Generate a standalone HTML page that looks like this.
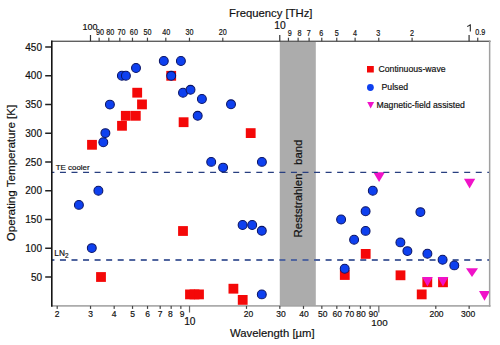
<!DOCTYPE html><html><head><meta charset="utf-8"><style>html,body{margin:0;padding:0;background:#fff;width:500px;height:345px;overflow:hidden}svg{display:block}text{font-family:"Liberation Sans",sans-serif;fill:#101010;stroke:#101010;stroke-width:0.18px}</style></head><body>
<svg width="500" height="345" viewBox="0 0 500 345">
<rect width="500" height="345" fill="#fff"/>
<rect x="279.8" y="41.3" width="36" height="264.59999999999997" fill="#acacac"/>
<text transform="translate(302.2,237.4) rotate(-90)" font-size="11.4">Reststrahlen</text>
<text transform="translate(302.2,164.9) rotate(-90)" font-size="11.4">band</text>
<rect x="87.10" y="139.90" width="9.8" height="9.8" fill="#f40808"/>
<rect x="96.10" y="272.10" width="9.8" height="9.8" fill="#f40808"/>
<rect x="117.10" y="120.90" width="9.8" height="9.8" fill="#f40808"/>
<rect x="120.90" y="110.90" width="9.8" height="9.8" fill="#f40808"/>
<rect x="130.90" y="110.90" width="9.8" height="9.8" fill="#f40808"/>
<rect x="132.30" y="87.80" width="9.8" height="9.8" fill="#f40808"/>
<rect x="137.10" y="99.50" width="9.8" height="9.8" fill="#f40808"/>
<rect x="166.30" y="70.90" width="9.8" height="9.8" fill="#f40808"/>
<rect x="178.70" y="117.30" width="9.8" height="9.8" fill="#f40808"/>
<rect x="178.10" y="226.10" width="9.8" height="9.8" fill="#f40808"/>
<rect x="185.10" y="289.50" width="9.8" height="9.8" fill="#f40808"/>
<rect x="189.60" y="289.50" width="9.8" height="9.8" fill="#f40808"/>
<rect x="194.10" y="289.50" width="9.8" height="9.8" fill="#f40808"/>
<rect x="228.50" y="283.80" width="9.8" height="9.8" fill="#f40808"/>
<rect x="237.80" y="295.00" width="9.8" height="9.8" fill="#f40808"/>
<rect x="245.80" y="128.20" width="9.8" height="9.8" fill="#f40808"/>
<rect x="339.90" y="270.10" width="9.8" height="9.8" fill="#f40808"/>
<rect x="360.80" y="249.00" width="9.8" height="9.8" fill="#f40808"/>
<rect x="395.60" y="270.40" width="9.8" height="9.8" fill="#f40808"/>
<rect x="416.80" y="289.50" width="9.8" height="9.8" fill="#f40808"/>
<rect x="422.40" y="277.40" width="9.8" height="9.8" fill="#f40808"/>
<rect x="438.10" y="277.40" width="9.8" height="9.8" fill="#f40808"/>
<polygon points="373.30,172.2 384.90,172.2 379.10,182.0" fill="#f012c8"/>
<polygon points="464.00,178.7 475.20,178.7 469.60,188.39999999999998" fill="#f012c8"/>
<polygon points="466.00,268.2 478.00,268.2 472.00,277.0" fill="#f012c8"/>
<polygon points="479.00,291 490.00,291 484.50,300.8" fill="#f012c8"/>
<polygon points="422.05,277.1 432.75,277.1 427.40,286.6" fill="#f012c8"/>
<polygon points="437.65,277.1 448.35,277.1 443.00,286.6" fill="#f012c8"/>
<line x1="52" y1="172.4" x2="489.7" y2="172.4" stroke="#283f80" stroke-width="1.4" stroke-dasharray="6 5.55" stroke-dashoffset="3.6"/>
<line x1="52" y1="260" x2="489.7" y2="260" stroke="#50659f" stroke-width="1.8" stroke-dasharray="6 5.55" stroke-dashoffset="3.6"/>
<circle cx="121.9" cy="75.7" r="4.45" fill="#0e40ef" stroke="#0a1466" stroke-width="1.05"/>
<circle cx="125.9" cy="75.7" r="4.45" fill="#0e40ef" stroke="#0a1466" stroke-width="1.05"/>
<circle cx="136" cy="68" r="4.45" fill="#0e40ef" stroke="#0a1466" stroke-width="1.05"/>
<circle cx="109.9" cy="104.6" r="4.45" fill="#0e40ef" stroke="#0a1466" stroke-width="1.05"/>
<circle cx="105.4" cy="133.1" r="4.45" fill="#0e40ef" stroke="#0a1466" stroke-width="1.05"/>
<circle cx="103.3" cy="142.2" r="4.45" fill="#0e40ef" stroke="#0a1466" stroke-width="1.05"/>
<circle cx="163.8" cy="61" r="4.45" fill="#0e40ef" stroke="#0a1466" stroke-width="1.05"/>
<circle cx="180.9" cy="61" r="4.45" fill="#0e40ef" stroke="#0a1466" stroke-width="1.05"/>
<circle cx="171.2" cy="75.8" r="4.45" fill="#0e40ef" stroke="#0a1466" stroke-width="1.05"/>
<circle cx="183" cy="92.7" r="4.45" fill="#0e40ef" stroke="#0a1466" stroke-width="1.05"/>
<circle cx="190.5" cy="89.8" r="4.45" fill="#0e40ef" stroke="#0a1466" stroke-width="1.05"/>
<circle cx="201.9" cy="99" r="4.45" fill="#0e40ef" stroke="#0a1466" stroke-width="1.05"/>
<circle cx="231" cy="104.3" r="4.45" fill="#0e40ef" stroke="#0a1466" stroke-width="1.05"/>
<circle cx="197.7" cy="115.8" r="4.45" fill="#0e40ef" stroke="#0a1466" stroke-width="1.05"/>
<circle cx="211.2" cy="161.9" r="4.45" fill="#0e40ef" stroke="#0a1466" stroke-width="1.05"/>
<circle cx="223.1" cy="167.6" r="4.45" fill="#0e40ef" stroke="#0a1466" stroke-width="1.05"/>
<circle cx="261.9" cy="161.9" r="4.45" fill="#0e40ef" stroke="#0a1466" stroke-width="1.05"/>
<circle cx="98.4" cy="190.7" r="4.45" fill="#0e40ef" stroke="#0a1466" stroke-width="1.05"/>
<circle cx="78.9" cy="204.9" r="4.45" fill="#0e40ef" stroke="#0a1466" stroke-width="1.05"/>
<circle cx="91.8" cy="248.1" r="4.45" fill="#0e40ef" stroke="#0a1466" stroke-width="1.05"/>
<circle cx="242.6" cy="225" r="4.45" fill="#0e40ef" stroke="#0a1466" stroke-width="1.05"/>
<circle cx="252.2" cy="225" r="4.45" fill="#0e40ef" stroke="#0a1466" stroke-width="1.05"/>
<circle cx="261.8" cy="230.8" r="4.45" fill="#0e40ef" stroke="#0a1466" stroke-width="1.05"/>
<circle cx="261.8" cy="294.4" r="4.45" fill="#0e40ef" stroke="#0a1466" stroke-width="1.05"/>
<circle cx="372.8" cy="190.7" r="4.45" fill="#0e40ef" stroke="#0a1466" stroke-width="1.05"/>
<circle cx="365.6" cy="211.2" r="4.45" fill="#0e40ef" stroke="#0a1466" stroke-width="1.05"/>
<circle cx="341.1" cy="219.5" r="4.45" fill="#0e40ef" stroke="#0a1466" stroke-width="1.05"/>
<circle cx="365.6" cy="230.9" r="4.45" fill="#0e40ef" stroke="#0a1466" stroke-width="1.05"/>
<circle cx="354.1" cy="239.7" r="4.45" fill="#0e40ef" stroke="#0a1466" stroke-width="1.05"/>
<circle cx="400.4" cy="242.4" r="4.45" fill="#0e40ef" stroke="#0a1466" stroke-width="1.05"/>
<circle cx="407.4" cy="251.1" r="4.45" fill="#0e40ef" stroke="#0a1466" stroke-width="1.05"/>
<circle cx="427.4" cy="253.7" r="4.45" fill="#0e40ef" stroke="#0a1466" stroke-width="1.05"/>
<circle cx="442.6" cy="259.8" r="4.45" fill="#0e40ef" stroke="#0a1466" stroke-width="1.05"/>
<circle cx="454.3" cy="265.4" r="4.45" fill="#0e40ef" stroke="#0a1466" stroke-width="1.05"/>
<circle cx="420.4" cy="212.1" r="4.45" fill="#0e40ef" stroke="#0a1466" stroke-width="1.05"/>
<circle cx="344.7" cy="268.7" r="4.45" fill="#0e40ef" stroke="#0a1466" stroke-width="1.05"/>
<text x="55.8" y="169.9" font-size="7.9">TE cooler</text>
<text x="54.3" y="255.9" font-size="8.3">LN<tspan font-size="6.3" dy="1.6">2</tspan></text>
<rect x="51" y="40.6" width="439.5" height="1.4" fill="#606060"/>
<rect x="51" y="305.1" width="439.5" height="1.6" fill="#a4a4a4"/>
<rect x="488.9" y="40.6" width="1.5" height="266.1" fill="#a0a0a0"/>
<rect x="51" y="40.6" width="1.6" height="266.1" fill="#151515"/>
<rect x="45.2" y="276.25" width="6" height="1.5" fill="#222"/>
<text x="42" y="280.50" font-size="10" text-anchor="end">50</text>
<rect x="45.2" y="247.50" width="6" height="1.5" fill="#222"/>
<text x="42" y="251.75" font-size="10" text-anchor="end">100</text>
<rect x="45.2" y="218.75" width="6" height="1.5" fill="#222"/>
<text x="42" y="223.00" font-size="10" text-anchor="end">150</text>
<rect x="45.2" y="190.00" width="6" height="1.5" fill="#222"/>
<text x="42" y="194.25" font-size="10" text-anchor="end">200</text>
<rect x="45.2" y="161.25" width="6" height="1.5" fill="#222"/>
<text x="42" y="165.50" font-size="10" text-anchor="end">250</text>
<rect x="45.2" y="132.50" width="6" height="1.5" fill="#222"/>
<text x="42" y="136.75" font-size="10" text-anchor="end">300</text>
<rect x="45.2" y="103.75" width="6" height="1.5" fill="#222"/>
<text x="42" y="108.00" font-size="10" text-anchor="end">350</text>
<rect x="45.2" y="75.00" width="6" height="1.5" fill="#222"/>
<text x="42" y="79.25" font-size="10" text-anchor="end">400</text>
<rect x="45.2" y="46.25" width="6" height="1.5" fill="#222"/>
<text x="42" y="50.50" font-size="10" text-anchor="end">450</text>
<rect x="56.60" y="305.9" width="1.2" height="3" fill="#444"/>
<text x="57.20" y="316.9" font-size="8.5" text-anchor="middle">2</text>
<rect x="89.93" y="305.9" width="1.2" height="3" fill="#444"/>
<text x="90.53" y="316.9" font-size="8.5" text-anchor="middle">3</text>
<rect x="113.58" y="305.9" width="1.2" height="3" fill="#444"/>
<text x="114.18" y="316.9" font-size="8.5" text-anchor="middle">4</text>
<rect x="131.93" y="305.9" width="1.2" height="3" fill="#444"/>
<text x="132.53" y="316.9" font-size="8.5" text-anchor="middle">5</text>
<rect x="146.92" y="305.9" width="1.2" height="3" fill="#444"/>
<text x="147.52" y="316.9" font-size="8.5" text-anchor="middle">6</text>
<rect x="159.59" y="305.9" width="1.2" height="3" fill="#444"/>
<text x="160.19" y="316.9" font-size="8.5" text-anchor="middle">7</text>
<rect x="170.57" y="305.9" width="1.2" height="3" fill="#444"/>
<text x="170.37" y="316.9" font-size="8.5" text-anchor="middle">8</text>
<rect x="180.25" y="305.9" width="1.2" height="3" fill="#444"/>
<text x="182.15" y="316.9" font-size="8.5" text-anchor="middle">9</text>
<rect x="245.90" y="305.9" width="1.2" height="3" fill="#444"/>
<text x="248.50" y="316.9" font-size="8.5" text-anchor="middle">20</text>
<rect x="279.23" y="305.9" width="1.2" height="3" fill="#444"/>
<text x="281.03" y="316.9" font-size="8.5" text-anchor="middle">30</text>
<rect x="302.88" y="305.9" width="1.2" height="3" fill="#444"/>
<text x="304.08" y="316.9" font-size="8.5" text-anchor="middle">40</text>
<rect x="321.23" y="305.9" width="1.2" height="3" fill="#444"/>
<text x="322.83" y="316.9" font-size="8.5" text-anchor="middle">50</text>
<rect x="336.22" y="305.9" width="1.2" height="3" fill="#444"/>
<text x="337.32" y="316.9" font-size="8.5" text-anchor="middle">60</text>
<rect x="348.89" y="305.9" width="1.2" height="3" fill="#444"/>
<text x="349.49" y="316.9" font-size="8.5" text-anchor="middle">70</text>
<rect x="359.87" y="305.9" width="1.2" height="3" fill="#444"/>
<text x="360.97" y="316.9" font-size="8.5" text-anchor="middle">80</text>
<rect x="369.55" y="305.9" width="1.2" height="3" fill="#444"/>
<text x="373.35" y="316.9" font-size="8.5" text-anchor="middle">90</text>
<rect x="435.20" y="305.9" width="1.2" height="3" fill="#444"/>
<text x="436.50" y="316.9" font-size="8.5" text-anchor="middle">200</text>
<rect x="468.53" y="305.9" width="1.2" height="3" fill="#444"/>
<text x="468.13" y="316.9" font-size="8.5" text-anchor="middle">300</text>
<rect x="188.92" y="305.9" width="1.2" height="6.6" fill="#666"/>
<text x="189.82" y="324.8" font-size="10.2" text-anchor="middle">10</text>
<rect x="378.22" y="305.9" width="1.2" height="6.6" fill="#666"/>
<text x="379.42" y="325.5" font-size="9.8" text-anchor="middle">100</text>
<rect x="98.54" y="37.699999999999996" width="1.2" height="3.6" fill="#444"/>
<text transform="translate(99.94,35.1) scale(0.87,1)" font-size="8.3" text-anchor="middle">90</text>
<rect x="108.22" y="37.699999999999996" width="1.2" height="3.6" fill="#444"/>
<text transform="translate(110.22,35.1) scale(0.87,1)" font-size="8.3" text-anchor="middle">80</text>
<rect x="119.20" y="37.699999999999996" width="1.2" height="3.6" fill="#444"/>
<text transform="translate(121.60,35.1) scale(0.87,1)" font-size="8.3" text-anchor="middle">70</text>
<rect x="131.87" y="37.699999999999996" width="1.2" height="3.6" fill="#444"/>
<text transform="translate(133.87,35.1) scale(0.87,1)" font-size="8.3" text-anchor="middle">60</text>
<rect x="146.86" y="37.699999999999996" width="1.2" height="3.6" fill="#444"/>
<text transform="translate(147.46,35.1) scale(0.87,1)" font-size="8.3" text-anchor="middle">50</text>
<rect x="165.21" y="37.699999999999996" width="1.2" height="3.6" fill="#444"/>
<text transform="translate(166.31,35.1) scale(0.87,1)" font-size="8.3" text-anchor="middle">40</text>
<rect x="188.86" y="37.699999999999996" width="1.2" height="3.6" fill="#444"/>
<text transform="translate(189.46,35.1) scale(0.87,1)" font-size="8.3" text-anchor="middle">30</text>
<rect x="222.19" y="37.699999999999996" width="1.2" height="3.6" fill="#444"/>
<text transform="translate(222.79,35.1) scale(0.87,1)" font-size="8.3" text-anchor="middle">20</text>
<rect x="287.84" y="37.699999999999996" width="1.2" height="3.6" fill="#444"/>
<text transform="translate(289.64,35.8) scale(0.87,1)" font-size="8.3" text-anchor="middle">9</text>
<rect x="297.52" y="37.699999999999996" width="1.2" height="3.6" fill="#444"/>
<text transform="translate(299.62,35.8) scale(0.87,1)" font-size="8.3" text-anchor="middle">8</text>
<rect x="308.50" y="37.699999999999996" width="1.2" height="3.6" fill="#444"/>
<text transform="translate(308.80,35.8) scale(0.87,1)" font-size="8.3" text-anchor="middle">7</text>
<rect x="321.17" y="37.699999999999996" width="1.2" height="3.6" fill="#444"/>
<text transform="translate(321.27,35.8) scale(0.87,1)" font-size="8.3" text-anchor="middle">6</text>
<rect x="336.16" y="37.699999999999996" width="1.2" height="3.6" fill="#444"/>
<text transform="translate(336.76,35.8) scale(0.87,1)" font-size="8.3" text-anchor="middle">5</text>
<rect x="354.51" y="37.699999999999996" width="1.2" height="3.6" fill="#444"/>
<text transform="translate(355.11,35.8) scale(0.87,1)" font-size="8.3" text-anchor="middle">4</text>
<rect x="378.16" y="37.699999999999996" width="1.2" height="3.6" fill="#444"/>
<text transform="translate(378.26,35.8) scale(0.87,1)" font-size="8.3" text-anchor="middle">3</text>
<rect x="411.49" y="37.699999999999996" width="1.2" height="3.6" fill="#444"/>
<text transform="translate(412.09,35.8) scale(0.87,1)" font-size="8.3" text-anchor="middle">2</text>
<rect x="477.14" y="37.699999999999996" width="1.2" height="3.6" fill="#444"/>
<text transform="translate(480.14,34.7) scale(0.87,1)" font-size="8.3" text-anchor="middle">0.9</text>
<rect x="89.88" y="35.0" width="1.2" height="6.3" fill="#333"/>
<text x="89.98" y="29.7" font-size="9.0" text-anchor="middle">100</text>
<rect x="279.18" y="35.0" width="1.2" height="6.3" fill="#333"/>
<text x="280.08" y="28.5" font-size="10.3" text-anchor="middle">10</text>
<rect x="468.48" y="35.0" width="1.2" height="6.3" fill="#333"/>
<path d="M470.3,31.6 V24.2 M470.3,24.6 C469.6,25.8 468.6,26.2 467.2,26.4" fill="none" stroke="#1a1a1a" stroke-width="1.05"/>
<text x="229" y="17" font-size="11.3">Frequency [THz]</text>
<text x="230" y="336.5" font-size="11.3">Wavelength [µm]</text>
<text transform="translate(14.8,241.3) rotate(-90)" font-size="11.62">Operating Temperature [K]</text>
<rect x="367" y="66" width="6.8" height="6.5" fill="#f40808"/>
<circle cx="370.4" cy="87.5" r="3.4" fill="#0e40ef"/>
<polygon points="367.2,102 374.1,102 370.65,108.6" fill="#f012c8"/>
<text x="378.5" y="72" font-size="8.7">Continuous-wave</text>
<text x="381.5" y="90.2" font-size="8.7">Pulsed</text>
<text x="376.5" y="107.9" font-size="8.7">Magnetic-field assisted</text>
</svg></body></html>
